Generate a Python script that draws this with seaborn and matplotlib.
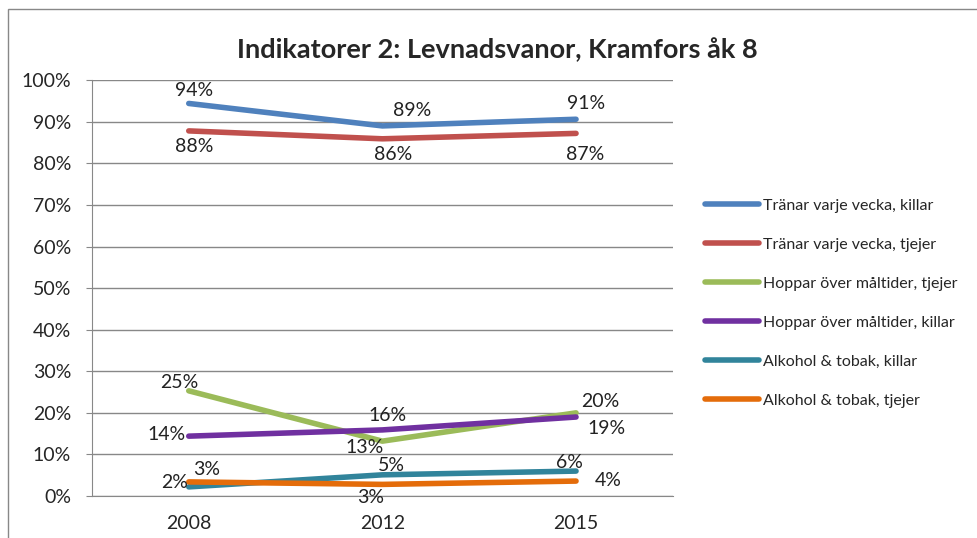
import seaborn as sns
import matplotlib.pyplot as plt
import pandas as pd
from matplotlib.patches import Rectangle

# data (percent)
years = ["2008", "2012", "2015"]
series = [
    "Tränar varje vecka, killar",
    "Tränar varje vecka, tjejer",
    "Hoppar över måltider, tjejer",
    "Hoppar över måltider, killar",
    "Alkohol & tobak, killar",
    "Alkohol & tobak, tjejer",
]
traning_killar = [94.4, 89.0, 90.6]
traning_tjejer = [87.8, 85.9, 87.2]
hoppar_tjejer = [25.3, 13.2, 20.0]
hoppar_killar = [14.4, 15.9, 19.0]
alkohol_killar = [2.2, 5.1, 6.0]
alkohol_tjejer = [3.4, 2.8, 3.6]
values = [traning_killar, traning_tjejer, hoppar_tjejer,
          hoppar_killar, alkohol_killar, alkohol_tjejer]

colors = ["#4F81BD", "#C0504D", "#9BBB59", "#7030A0", "#31849B", "#E46C0A"]

# label offsets in pixels (x right, y up) per series, per year
offsets = [
    [(5, 13), (30, 15), (10, 16)],
    [(5, -16), (11, -16), (9, -21)],
    [(-9, 8), (-18, -6), (24, 11)],
    [(-22, 2), (5, 14), (30, -11)],
    [(-14, 4), (9, 9), (-7, 9)],
    [(18, 12), (-12, -13), (32, 1)],
]

rows = []
for name, vals in zip(series, values):
    for yr, v in zip(years, vals):
        rows.append({"Year": yr, "Value": v, "Serie": name})
df = pd.DataFrame(rows)

sns.set_style("white")
plt.rcParams["font.family"] = ["Lato", "DejaVu Sans"]

fig = plt.figure(figsize=(9.78, 5.38), dpi=100)
ax = fig.add_axes([0.094, 0.078, 0.594, 0.773])

sns.lineplot(data=df, x="Year", y="Value", hue="Serie", hue_order=series,
             palette=colors, linewidth=4, ax=ax, sort=False,
             solid_capstyle="round")

for name, vals, offs in zip(series, values, offsets):
    for yr, v, off in zip(years, vals, offs):
        ax.annotate(f"{v:.0f}%", (yr, v), xytext=off, textcoords="offset pixels",
                    ha="center", va="center", fontsize=14, color="#222222")

ax.set_xlim(-0.5, 2.5)
ax.set_ylim(0, 100)
ax.set_yticks(range(0, 101, 10))
ax.set_yticklabels([f"{t}%" for t in range(0, 101, 10)], fontsize=14)
ax.tick_params(axis="x", labelsize=14, pad=14, length=0)
ax.tick_params(axis="y", length=4, color="#888888", left=True, pad=11)
ax.set_xlabel("")
ax.set_ylabel("")
ax.grid(axis="y", color="#888888", linewidth=1)
for s in ["top", "right"]:
    ax.spines[s].set_visible(False)
for s in ["left", "bottom"]:
    ax.spines[s].set_color("#888888")

fig.text(0.508, 0.907, "Indikatorer 2: Levnadsvanor, Kramfors åk 8",
         ha="center", va="center", fontsize=19.5, fontweight="bold")

handles, labels = ax.get_legend_handles_labels()
ax.legend(handles, labels, loc="center left", bbox_to_anchor=(1.03, 0.464),
          frameon=False, fontsize=11.5, handlelength=3.4, labelspacing=1.55,
          handletextpad=0.25)

fig.patches.append(Rectangle((8 / 978, -0.1), 2, 1.1 - 9 / 538,
                             transform=fig.transFigure, fill=False,
                             edgecolor="#888888", linewidth=1))

plt.savefig("out.png", dpi=100)
